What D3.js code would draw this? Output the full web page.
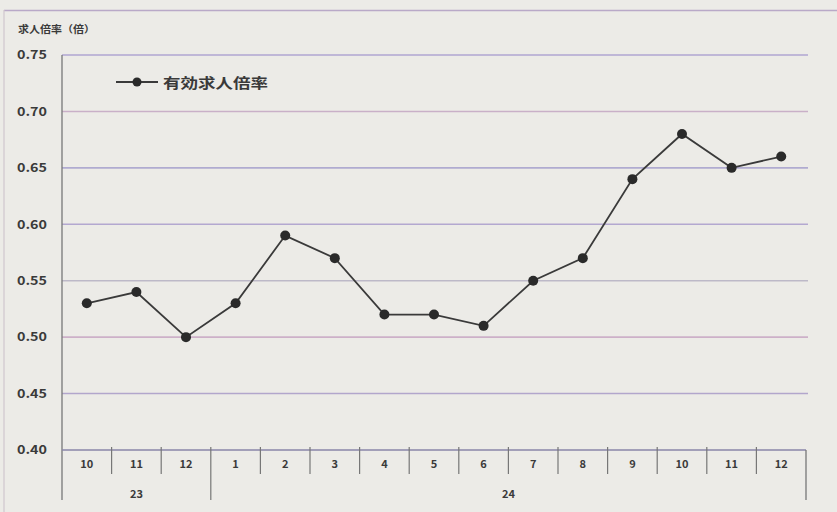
<!DOCTYPE html>
<html><head><meta charset="utf-8">
<script src="https://cdn.jsdelivr.net/npm/d3@7"></script>
<style>
html,body{margin:0;padding:0;background:#ecebe7;}
svg{display:block;}
text{font-family:"Noto Sans CJK JP","Noto Sans",sans-serif;fill:#3a3a3a;}
</style></head><body>
<svg id="c" width="837" height="512"></svg>
<script>
const months = ["10","11","12","1","2","3","4","5","6","7","8","9","10","11","12"];
const years = [{label:"23", from:0, to:3},{label:"24", from:3, to:15}];
const values = [0.53,0.54,0.50,0.53,0.59,0.57,0.52,0.52,0.51,0.55,0.57,0.64,0.68,0.65,0.66];
const yTicks = [0.40,0.45,0.50,0.55,0.60,0.65,0.70,0.75];
const seriesName = "有効求人倍率";
const yTitle = "求人倍率（倍）";

const svg = d3.select("#c");
const L=62, R=806, T=55, B=450;
const idx = d3.range(months.length);
const x = d3.scaleBand().domain(idx).range([L,R]);
const y = d3.scaleLinear().domain([0.40,0.75]).range([B,T]);

// outer frame
svg.append("line").attr("x1",4).attr("x2",837).attr("y1",10.5).attr("y2",10.5).attr("stroke","#b9a9c8").attr("stroke-width",1.5);
svg.append("line").attr("x1",4).attr("x2",4).attr("y1",10).attr("y2",512).attr("stroke","#d0c6cf").attr("stroke-width",1.2);

// gridlines
const gridColors = ["#b2a6cc","#cdb0c8","#bdb9c8","#b3a8d0","#b0abd0","#c9b0c8","#b0a6d2","#bbb0cc"];
svg.append("g").selectAll("line").data(yTicks.filter(d=>d>0.40)).join("line")
  .attr("x1",L).attr("x2",R+2).attr("y1",d=>y(d)).attr("y2",d=>y(d))
  .attr("stroke",(d,i)=>gridColors[i]).attr("stroke-width",1.6);

// y axis
const yAxis = d3.axisLeft(y).tickValues(yTicks).tickFormat(d3.format(".2f")).tickSize(0).tickPadding(15);
const gy = svg.append("g").attr("transform",`translate(${L},0)`).call(yAxis);
gy.select(".domain").remove();
gy.selectAll("text").attr("font-size",12).attr("font-weight","bold").attr("fill","#4a4a4a")
  .attr("font-family","'Liberation Sans',Arial,sans-serif")
  .attr("textLength",30).attr("lengthAdjust","spacingAndGlyphs");

// vertical axis line
svg.append("line").attr("x1",L).attr("x2",L).attr("y1",T).attr("y2",500).attr("stroke","#777").attr("stroke-width",1.3);
// bottom axis
svg.append("line").attr("x1",L).attr("x2",R).attr("y1",B).attr("y2",B).attr("stroke","#8a86a8").attr("stroke-width",1.6);
svg.append("line").attr("x1",R).attr("x2",R).attr("y1",B).attr("y2",500).attr("stroke","#777").attr("stroke-width",1.3);

// month separators
const seps = idx.slice(1);
svg.append("g").selectAll("line").data(seps).join("line")
  .attr("x1",d=>x(d)).attr("x2",d=>x(d)).attr("y1",B-3)
  .attr("y2",d=> years.some(yy=>yy.from===d) ? 500 : 474)
  .attr("stroke","#777").attr("stroke-width",1.2);

// month labels
const xAxis = d3.axisBottom(x).tickFormat(i=>months[i]).tickSize(0).tickPadding(10);
const gx = svg.append("g").attr("transform",`translate(0,${B})`).call(xAxis);
gx.select(".domain").remove();
gx.selectAll("text").attr("font-size",11).attr("font-weight","bold").attr("fill","#3a3a3a").attr("font-family","'Liberation Sans',Arial,sans-serif");

// year labels
svg.append("g").selectAll("text").data(years).join("text")
  .attr("x",d=>(x(d.from)+x(d.to-1)+x.bandwidth())/2).attr("y",498)
  .attr("text-anchor","middle").attr("font-size",11).attr("font-weight","bold")
  .attr("font-family","'Liberation Sans',Arial,sans-serif").text(d=>d.label);

// y title
svg.append("text").attr("x",18).attr("y",33).attr("font-size",10).attr("font-weight","bold").attr("fill","#555")
  .attr("textLength",77).attr("lengthAdjust","spacingAndGlyphs").text(yTitle);

// line
const cx = i=>x(i)+x.bandwidth()/2;
svg.append("path").datum(values).attr("fill","none").attr("stroke","#3a3a3a").attr("stroke-width",1.8)
  .attr("d",d3.line().x((d,i)=>cx(i)).y(d=>y(d)));
svg.append("g").selectAll("circle").data(values).join("circle")
  .attr("cx",(d,i)=>cx(i)).attr("cy",d=>y(d)).attr("r",5).attr("fill","#2a2a2a");

// legend
svg.append("line").attr("x1",116).attr("x2",158).attr("y1",82).attr("y2",82).attr("stroke","#3a3a3a").attr("stroke-width",1.8);
svg.append("circle").attr("cx",137).attr("cy",82).attr("r",4.5).attr("fill","#2a2a2a");
svg.append("text").attr("x",163).attr("y",87.5).attr("font-size",14).attr("font-weight","bold").attr("fill","#3a3a3a")
  .attr("textLength",105).attr("lengthAdjust","spacingAndGlyphs").text(seriesName);
</script>
</body></html>
